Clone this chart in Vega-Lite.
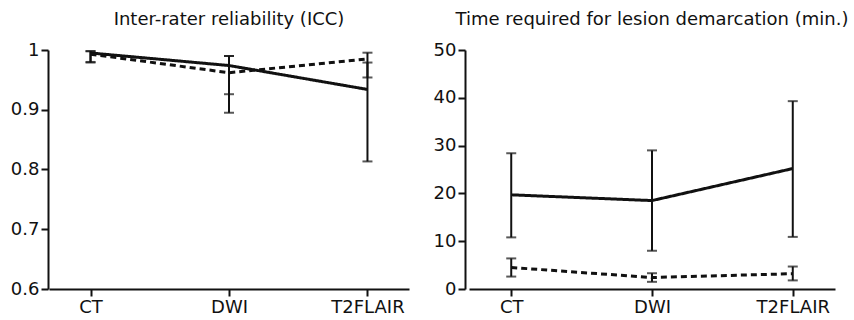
{
  "$schema": "https://vega.github.io/schema/vega-lite/v6.json",
  "padding": {"left": 10, "top": 11, "right": 5, "bottom": 2},
  "background": "white",
  "datasets": {
    "icc": [
      {"modality": "CT", "method": "A", "value": 0.995, "lo": 0.980, "hi": 0.998},
      {"modality": "DWI", "method": "A", "value": 0.974, "lo": 0.926, "hi": 0.990},
      {"modality": "T2FLAIR", "method": "A", "value": 0.934, "lo": 0.8135, "hi": 0.979},
      {"modality": "CT", "method": "B", "value": 0.993, "lo": 0.979, "hi": 0.998},
      {"modality": "DWI", "method": "B", "value": 0.962, "lo": 0.895, "hi": 0.990},
      {"modality": "T2FLAIR", "method": "B", "value": 0.985, "lo": 0.954, "hi": 0.9955}
    ],
    "time": [
      {"modality": "CT", "method": "A", "value": 19.7, "lo": 10.8, "hi": 28.4},
      {"modality": "DWI", "method": "A", "value": 18.5, "lo": 8.0, "hi": 29.0},
      {"modality": "T2FLAIR", "method": "A", "value": 25.2, "lo": 10.9, "hi": 39.3},
      {"modality": "CT", "method": "B", "value": 4.5, "lo": 2.6, "hi": 6.4},
      {"modality": "DWI", "method": "B", "value": 2.4, "lo": 1.5, "hi": 3.3},
      {"modality": "T2FLAIR", "method": "B", "value": 3.2, "lo": 1.8, "hi": 4.7}
    ]
  },
  "config": {
    "view": {"stroke": null},
    "font": "DejaVu Sans",
    "concat": {"spacing": 24},
    "axis": {
      "labelFont": "DejaVu Sans",
      "labelFontSize": 18,
      "labelColor": "#111111",
      "domainColor": "#111111",
      "domainWidth": 2,
      "tickColor": "#111111",
      "tickWidth": 2,
      "tickSize": 7,
      "labelPadding": 2,
      "grid": false,
      "title": null
    },
    "title": {"font": "DejaVu Sans", "fontSize": 18, "fontWeight": "normal", "color": "#111111", "offset": 12, "anchor": "middle"}
  },
  "hconcat": [
    {
      "width": 360,
      "height": 239,
      "title": "Inter-rater reliability (ICC)",
      "data": {"name": "icc"},
      "encoding": {
        "x": {"field": "modality", "type": "nominal", "sort": ["CT", "DWI", "T2FLAIR"], "scale": {"type": "point", "padding": 0.3}, "axis": {"labelAngle": 0}}
      },
      "layer": [
        {
          "mark": {"type": "line", "color": "#111111", "strokeWidth": 3},
          "encoding": {
            "y": {"field": "value", "type": "quantitative", "scale": {"domain": [0.6, 1], "nice": false, "zero": false}, "axis": {"values": [0.6, 0.65, 0.7, 0.75, 0.8, 0.85, 0.9, 0.95, 1.0], "labelExpr": "round(datum.value*100) % 10 == 0 ? format(datum.value, '~g') : ''", "labelOverlap": false, "offset": 1, "tickSize": {"condition": {"test": "round(datum.value*100) % 10 != 0", "value": 4}, "value": 7}}},
            "strokeDash": {"field": "method", "type": "nominal", "scale": {"domain": ["A", "B"], "range": [[1, 0], [6, 4]]}, "legend": null}
          }
        },
        {
          "mark": {"type": "rule", "color": "#111111", "strokeWidth": 2},
          "encoding": {"y": {"field": "lo", "type": "quantitative"}, "y2": {"field": "hi"}}
        },
        {
          "mark": {"type": "tick", "color": "#111111", "thickness": 2, "size": 10},
          "encoding": {"y": {"field": "lo", "type": "quantitative"}}
        },
        {
          "mark": {"type": "tick", "color": "#111111", "thickness": 2, "size": 10},
          "encoding": {"y": {"field": "hi", "type": "quantitative"}}
        }
      ]
    },
    {
      "width": 366,
      "height": 239,
      "title": "Time required for lesion demarcation (min.)",
      "data": {"name": "time"},
      "encoding": {
        "x": {"field": "modality", "type": "nominal", "sort": ["CT", "DWI", "T2FLAIR"], "scale": {"type": "point", "padding": 0.3}, "axis": {"labelAngle": 0}}
      },
      "layer": [
        {
          "mark": {"type": "line", "color": "#111111", "strokeWidth": 3},
          "encoding": {
            "y": {"field": "value", "type": "quantitative", "scale": {"domain": [0, 50], "nice": false}, "axis": {"values": [0, 5, 10, 15, 20, 25, 30, 35, 40, 45, 50], "labelExpr": "datum.value % 10 == 0 ? datum.value : ''", "labelOverlap": false, "offset": 4, "tickSize": {"condition": {"test": "datum.value % 10 != 0", "value": 4}, "value": 7}}},
            "strokeDash": {"field": "method", "type": "nominal", "scale": {"domain": ["A", "B"], "range": [[1, 0], [6, 4]]}, "legend": null}
          }
        },
        {
          "mark": {"type": "rule", "color": "#111111", "strokeWidth": 2},
          "encoding": {"y": {"field": "lo", "type": "quantitative"}, "y2": {"field": "hi"}}
        },
        {
          "mark": {"type": "tick", "color": "#111111", "thickness": 2, "size": 10},
          "encoding": {"y": {"field": "lo", "type": "quantitative"}}
        },
        {
          "mark": {"type": "tick", "color": "#111111", "thickness": 2, "size": 10},
          "encoding": {"y": {"field": "hi", "type": "quantitative"}}
        }
      ]
    }
  ]
}
